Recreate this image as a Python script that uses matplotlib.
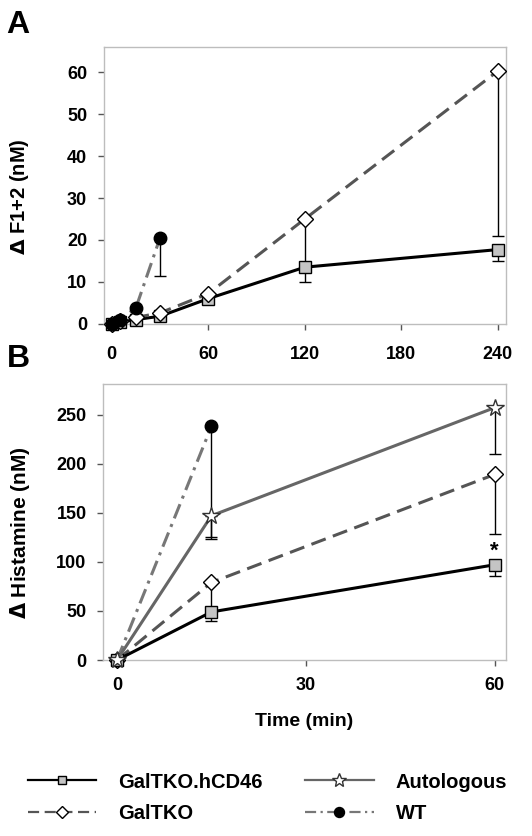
import numpy as np
import matplotlib
matplotlib.use("Agg")
import matplotlib.pyplot as plt
from matplotlib.lines import Line2D

plt.rcParams['font.family'] = ['Liberation Sans', 'DejaVu Sans']
plt.rcParams['font.weight'] = 'bold'
plt.rcParams['mathtext.fontset'] = 'dejavusans'

# Panel A: F1+2 over 240 min
a_time = [0, 5, 15, 30, 60, 120, 240]
a_hcd46 = [0, 0.4, 1.0, 1.8, 6.0, 13.5, 17.7]
a_hcd46_err = [0, 0, 0, 0, 0, 3.5, 2.7]
a_galtko = [0, 0.6, 1.5, 2.6, 7.2, 25.0, 60.3]
a_galtko_err = [0, 0, 0, 0, 0, 11.0, 39.3]
a_wt_time = [0, 5, 15, 30]
a_wt = [0, 1.0, 3.8, 20.5]
a_wt_err = [0, 0, 0, 9.0]

# Panel B: histamine over 60 min
b_time = [0, 15, 60]
b_hcd46 = [0, 49, 97]
b_hcd46_err = [0, 9, 11]
b_galtko = [0, 79, 189]
b_galtko_err = [0, 29, 61]
b_auto = [0, 147, 257]
b_auto_err = [0, 24, 47]
b_wt_time = [0, 15]
b_wt = [0, 238]
b_wt_err = [0, 113]

# стилі серій
st_hcd46 = dict(color='black', lw=2.2, ls='-', marker='s', ms=8,
                mfc='#c4c4c4', mec='black', mew=1.0)
st_galtko = dict(color='#555555', lw=2.2, ls=(0, (5, 2.5)), marker='D', ms=8,
                 mfc='white', mec='black', mew=1.0)
st_auto = dict(color='#666666', lw=2.2, ls='-', marker='*', ms=13,
               mfc='white', mec='#333333', mew=1.0)
st_wt = dict(color='#777777', lw=2.2, ls=(0, (5, 2, 1, 2)), marker='o', ms=9,
             mfc='black', mec='black', mew=1.0)


def err(ax, x, y, lo):
    ax.errorbar(x, y, yerr=[lo, np.zeros(len(lo))], fmt='none', ecolor='black',
                elinewidth=1, capsize=4, capthick=1, zorder=2, clip_on=False)


def style(ax):
    for s in ax.spines.values():
        s.set_color('#bdbdbd')
        s.set_linewidth(1)
    ax.tick_params(direction='out', length=4, width=1, color='#555555',
                   labelsize=13, top=False, right=False)
    for lab in ax.get_xticklabels() + ax.get_yticklabels():
        lab.set_fontweight('bold')


fig = plt.figure(figsize=(5.32, 8.36), dpi=100)

# панель A
axA = fig.add_axes([0.195, 0.6127, 0.756, 0.331])
err(axA, a_time, a_hcd46, a_hcd46_err)
err(axA, a_time, a_galtko, a_galtko_err)
err(axA, a_wt_time, a_wt, a_wt_err)
axA.plot(a_time, a_hcd46, zorder=4, clip_on=False, **st_hcd46)
axA.plot(a_time, a_galtko, zorder=5, clip_on=False, **st_galtko)
axA.plot(a_wt_time, a_wt, zorder=6, clip_on=False, **st_wt)
axA.set_xlim(-5, 245)
axA.set_ylim(0, 66)
axA.set_xticks([0, 60, 120, 180, 240])
axA.set_yticks([0, 10, 20, 30, 40, 50, 60])
style(axA)
axA.tick_params(axis='x', pad=12)
axA.tick_params(axis='y', pad=8)
axA.set_ylabel(r'$\Delta$ F1+2 (nM)', fontsize=14.5, fontweight='bold')
axA.yaxis.set_label_coords(-0.18, 0.46)

# панель B
axB = fig.add_axes([0.194, 0.2105, 0.757, 0.330])
err(axB, b_time, b_hcd46, b_hcd46_err)
err(axB, b_time, b_galtko, b_galtko_err)
err(axB, b_time, b_auto, b_auto_err)
err(axB, b_wt_time, b_wt, b_wt_err)
axB.plot(b_wt_time, b_wt, zorder=3, clip_on=False, **st_wt)
axB.plot(b_time, b_galtko, zorder=4, clip_on=False, **st_galtko)
axB.plot(b_time, b_hcd46, zorder=5, clip_on=False, **st_hcd46)
axB.plot(b_time, b_auto, zorder=6, clip_on=False, **st_auto)
axB.text(60, 111, '*', ha='center', va='center', fontsize=16, fontweight='bold')
axB.set_xlim(-2.2, 61.8)
axB.set_ylim(0, 281)
axB.set_xticks([0, 30, 60])
axB.set_yticks([0, 50, 100, 150, 200, 250])
style(axB)
axB.tick_params(axis='x', pad=8)
axB.tick_params(axis='y', pad=8)
axB.set_ylabel(r'$\Delta$ Histamine (nM)', fontsize=15, fontweight='bold')
axB.yaxis.set_label_coords(-0.176, 0.46)
axB.set_xlabel('Time (min)', fontsize=14, fontweight='bold', labelpad=14)

fig.text(0.012, 0.988, 'A', fontsize=23, fontweight='bold', va='top')
fig.text(0.012, 0.588, 'B', fontsize=23, fontweight='bold', va='top')

# легенда
handles = [Line2D([], [], **st_hcd46), Line2D([], [], **st_galtko),
           Line2D([], [], **st_auto), Line2D([], [], **st_wt)]
labels = ['GalTKO.hCD46', 'GalTKO', 'Autologous', 'WT']
for h in handles:
    h.set_markersize(h.get_markersize() * 0.8)
    h.set_linewidth(1.6)
fig.legend(handles, labels, ncol=2, loc='center', bbox_to_anchor=(0.503, 0.046),
           frameon=False, handlelength=3.4, columnspacing=2.1,
           handletextpad=1.1, labelspacing=0.6, prop={'weight': 'bold', 'size': 14.5})

fig.savefig('out.png', dpi=100)
